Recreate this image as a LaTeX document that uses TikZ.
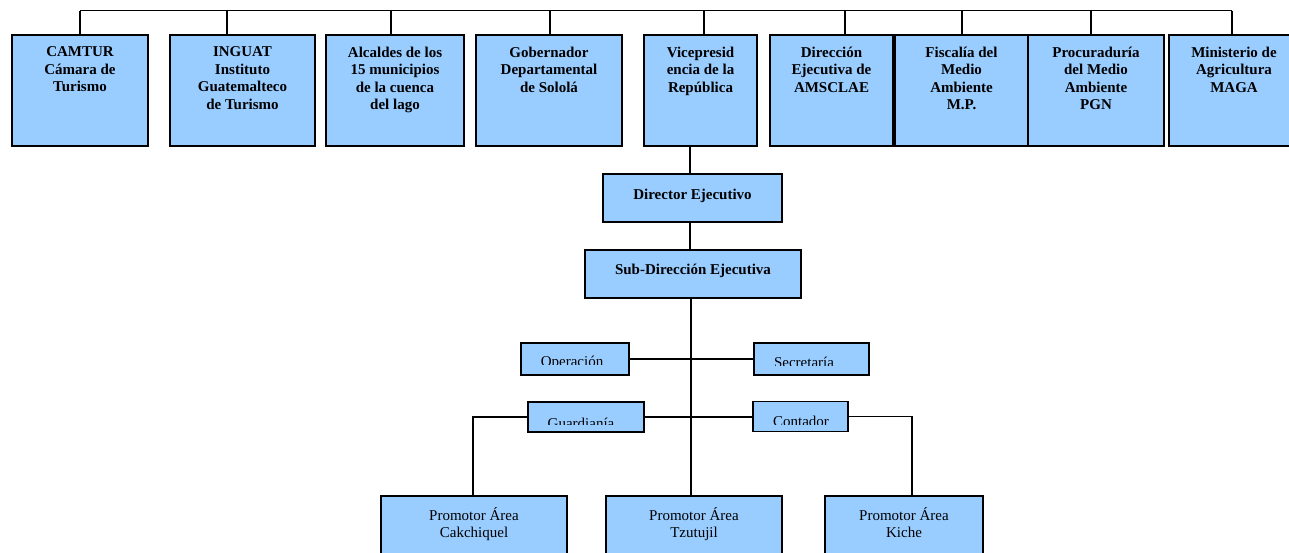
\documentclass[tikz,border=0pt]{standalone}
\usepackage{fontspec}
\setmainfont{Liberation Serif}
\definecolor{boxblue}{HTML}{99CCFF}
\begin{document}
\begin{tikzpicture}[x=1pt,y=-1pt,
  box/.style={rectangle, draw=black, line width=1.6pt, fill=boxblue, inner sep=0pt, outer sep=0pt},
  conn/.style={draw=black, line width=1.4pt},
  toptext/.style={anchor=north, inner sep=0pt, align=center, yshift=-11.5pt,
     font=\bfseries\fontsize{15}{17.5}\selectfont, execute at begin node={\rule{0pt}{12pt}}},
  promtext/.style={anchor=north, inner sep=0pt, align=center, yshift=-11pt,
     font=\fontsize{15}{17}\selectfont, execute at begin node={\rule{0pt}{12pt}}},
  smalltext/.style={anchor=base, inner sep=0pt, font=\fontsize{15}{17}\selectfont},
  midtext/.style={font=\bfseries\fontsize{15}{17.5}\selectfont}
]
\useasboundingbox (0,0) rectangle (1289,552);

% top bus
\coordinate (busL) at (80,10.5);
\coordinate (busR) at (1232,10.5);
\draw[conn] (busL) -- (busR);

% top boxes
\node[box, minimum width=136pt, minimum height=111pt, label={[toptext]north:{CAMTUR\\Cámara de\\Turismo}}] (camtur) at (80,90.5) {};
\node[box, minimum width=145pt, minimum height=111pt, label={[toptext]north:{INGUAT\\Instituto\\Guatemalteco\\de Turismo}}] (inguat) at (242.5,90.5) {};
\node[box, minimum width=138pt, minimum height=111pt, label={[toptext]north:{Alcaldes de los\\15 municipios\\de la cuenca\\del lago}}] (alcaldes) at (395,90.5) {};
\node[box, minimum width=146pt, minimum height=111pt, label={[toptext]north:{Gobernador\\Departamental\\de Sololá}}] (gober) at (549,90.5) {};
\node[box, minimum width=113pt, minimum height=111pt, label={[toptext]north:{Vicepresid\\encia de la\\República}}] (vice) at (700.5,90.5) {};
\node[box, minimum width=123pt, minimum height=111pt, label={[toptext]north:{Dirección\\Ejecutiva de\\AMSCLAE}}] (amsclae) at (831.5,90.5) {};
\node[box, minimum width=133pt, minimum height=111pt, label={[toptext]north:{Fiscalía del\\Medio\\Ambiente\\M.P.}}] (fiscalia) at (961.5,90.5) {};
\node[box, minimum width=136pt, minimum height=111pt, label={[toptext]north:{Procuraduría\\del Medio\\Ambiente\\PGN}}] (pgn) at (1096,90.5) {};
\node[box, minimum width=130pt, minimum height=111pt, label={[toptext]north:{Ministerio de\\Agricultura\\MAGA}}] (maga) at (1234,90.5) {};

% drops from bus
\draw[conn] (busL) -- (camtur.north -| busL);
\draw[conn] (227,10.5) -- (inguat.north -| 227,0);
\draw[conn] (391,10.5) -- (alcaldes.north -| 391,0);
\draw[conn] (550,10.5) -- (gober.north -| 550,0);
\draw[conn] (704,10.5) -- (vice.north -| 704,0);
\draw[conn] (845,10.5) -- (amsclae.north -| 845,0);
\draw[conn] (962,10.5) -- (fiscalia.north -| 962,0);
\draw[conn] (1091,10.5) -- (pgn.north -| 1091,0);
\draw[conn] (busR) -- (maga.north -| busR);

% director and sub-direction
\node[box, minimum width=179pt, minimum height=48pt, midtext, text height=5pt, text depth=3pt] (dir) at (692.5,198) {Director Ejecutivo};
\node[box, minimum width=216pt, minimum height=48pt, midtext, text height=4pt, text depth=4pt] (sub) at (693,274) {Sub-Dirección Ejecutiva};
\coordinate (spine) at (691,0);
\draw[conn] (vice.south -| 690,0) -- (dir.north -| 690,0);
\draw[conn] (dir.south -| 690,0) -- (sub.north -| 690,0);

% small boxes
\node[box, minimum width=108pt, minimum height=32pt] (ope) at (575,359) {};
\node[box, minimum width=115pt, minimum height=32pt] (sec) at (811.5,359) {};
\node[box, minimum width=116pt, minimum height=30pt] (guard) at (586,417) {};
\node[box, minimum width=95pt, minimum height=30pt] (cont) at (800.5,416.5) {};

\begin{scope}
  \clip (521,343) rectangle (629,364.5);
  \node[smalltext] (opeT) at (572,366.8) {Operación};
\end{scope}
\begin{scope}
  \clip (754,343) rectangle (869,365);
  \node[smalltext] (secT) at (804,367.6) {Secretaría};
\end{scope}
\begin{scope}
  \clip (528,402) rectangle (644,424.7);
  \node[smalltext] (guardT) at (581,428) {Guardianía};
\end{scope}
\begin{scope}
  \clip (753,401) rectangle (848,424.7);
  \node[smalltext] (contT) at (801,426.5) {Contador};
\end{scope}

% promotor boxes
\node[box, minimum width=186pt, minimum height=70pt, anchor=north, label={[promtext]north:{Promotor Área\\Cakchiquel}}] (cak) at (474,496) {};
\node[box, minimum width=176pt, minimum height=70pt, anchor=north, label={[promtext]north:{Promotor Área\\Tzutujil}}] (tzu) at (694,496) {};
\node[box, minimum width=158pt, minimum height=70pt, anchor=north, label={[promtext]north:{Promotor Área\\Kiche}}] (kiche) at (904,496) {};

% lower connectors
\draw[conn] (sub.south -| spine) -- (tzu.north -| spine);
\draw[conn] (ope.east) -- (sec.west);
\draw[conn] (guard.east) -- (guard.east -| cont.west);
\draw[conn] (guard.west) -- ++(-55,0) -- (cak.north -| 473,0);
\draw[conn] (cont.east) -- ++(64,0) -- (kiche.north -| 912,0);
\end{tikzpicture}
\end{document}
